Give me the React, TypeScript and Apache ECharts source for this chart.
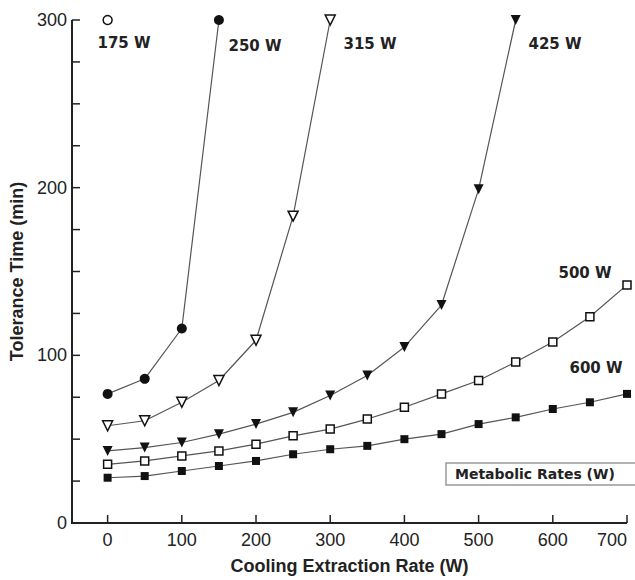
import React, { useEffect, useRef } from "react";
import * as echarts from "echarts";

const xTicks = [0, 100, 200, 300, 400, 500, 600, 700];
const yTicks = [0, 25, 50, 75, 100, 125, 150, 175, 200, 225, 250, 275, 300];
const x175 = [0];
const y175 = [300];
const x250 = [0, 50, 100, 150];
const y250 = [77, 86, 116, 300];
const x315 = [0, 50, 100, 150, 200, 250, 300];
const y315 = [58, 61, 72, 85, 109, 183, 300];
const x425 = [0, 50, 100, 150, 200, 250, 300, 350, 400, 450, 500, 550];
const y425 = [43, 45, 48, 53, 59, 66, 76, 88, 105, 130, 199, 300];
const x500 = [0, 50, 100, 150, 200, 250, 300, 350, 400, 450, 500, 550, 600, 650, 700];
const y500 = [35, 37, 40, 43, 47, 52, 56, 62, 69, 77, 85, 96, 108, 123, 142];
const x600 = [0, 50, 100, 150, 200, 250, 300, 350, 400, 450, 500, 550, 600, 650, 700];
const y600 = [27, 28, 31, 34, 37, 41, 44, 46, 50, 53, 59, 63, 68, 72, 77];
const seriesNames = ["175 W", "250 W", "315 W", "425 W", "500 W", "600 W"];
const X_MIN = -48;
const X_MAX = 700;
const Y_MIN = 0;
const Y_MAX = 300;

const pairs = (xs: number[], ys: number[]) => xs.map((x, i) => [x, ys[i]]);

export default function App() {
  const ref = useRef<HTMLDivElement>(null);
  useEffect(() => {
    if (!ref.current) return;
    const chart = echarts.init(ref.current, null, { renderer: "svg" });
    const lineColor = "#555";
    const ink = "#111";
    const axisColor = "#222";
    const base = (name: string, data: number[][], symbol: string, size: number, open: boolean, rotate = 0) => ({
      name,
      type: "line",
      data,
      symbol,
      symbolSize: size,
      symbolRotate: rotate,
      clip: false,
      lineStyle: { color: lineColor, width: 1.2 },
      itemStyle: open
        ? { color: "#fff", borderColor: ink, borderWidth: 1.5 }
        : { color: ink, borderColor: ink, borderWidth: 0 },
    });
    const labelStyle = (text: string, x: number, y: number) => ({
      type: "text",
      x,
      y,
      style: {
        text,
        fill: "#222",
        font: "bold 15px 'DejaVu Sans', sans-serif",
        textAlign: "center",
        textVerticalAlign: "middle",
      },
    });
    const seg = (x1: number, y1: number, x2: number, y2: number, w: number) => ({
      type: "line",
      shape: { x1, y1, x2, y2 },
      style: { stroke: axisColor, lineWidth: w, fill: null },
    });
    const axisFrame = {
      name: "axes",
      type: "custom",
      coordinateSystem: "cartesian2d",
      clip: false,
      silent: true,
      z: 5,
      data: [[0, 0]],
      renderItem: (_params: any, api: any) => {
        const o = api.coord([X_MIN, Y_MIN]);
        const c = api.coord([X_MAX, Y_MAX]);
        const children: any[] = [];
        children.push(seg(o[0], o[1], c[0], o[1], 2));
        children.push(seg(o[0], o[1] + 1, o[0], c[1], 2));
        xTicks.forEach((v) => {
          const p = api.coord([v, Y_MIN]);
          children.push(seg(p[0], o[1], p[0], o[1] - 8, 1.5));
        });
        yTicks.forEach((v) => {
          const p = api.coord([X_MIN, v]);
          children.push(seg(o[0], p[1], o[0] + 8, p[1], 1.5));
        });
        return { type: "group", children };
      },
    };
    chart.setOption({
      animation: false,
      textStyle: { fontFamily: "'Liberation Sans', Arial, sans-serif" },
      grid: { left: 72, right: 8, top: 20, bottom: 55 },
      xAxis: {
        type: "value",
        min: X_MIN,
        max: X_MAX,
        name: "Cooling Extraction Rate (W)",
        nameLocation: "middle",
        nameGap: 34,
        nameTextStyle: { fontSize: 18, fontWeight: "bold", color: axisColor },
        axisLine: { show: false },
        axisTick: { show: false },
        axisLabel: { customValues: xTicks, margin: 8, alignMaxLabel: "right", fontSize: 18, color: axisColor },
        splitLine: { show: false },
      },
      yAxis: {
        type: "value",
        min: Y_MIN,
        max: Y_MAX,
        interval: 25,
        name: "Tolerance Time (min)",
        nameLocation: "middle",
        nameGap: 46,
        nameTextStyle: { fontSize: 18, fontWeight: "bold", color: axisColor },
        axisLine: { show: false },
        axisTick: { show: false },
        axisLabel: {
          margin: 5,
          fontSize: 18,
          color: axisColor,
          formatter: (v: number) => (v % 100 === 0 ? String(v) : ""),
        },
        splitLine: { show: false },
      },
      graphic: [
        labelStyle(seriesNames[0], 124, 43),
        labelStyle(seriesNames[1], 255, 46),
        labelStyle(seriesNames[2], 370, 44),
        labelStyle(seriesNames[3], 555, 44),
        labelStyle(seriesNames[4], 585, 273),
        labelStyle(seriesNames[5], 596, 368),
        {
          type: "rect",
          shape: { x: 446, y: 463, width: 200, height: 22 },
          style: { fill: "#fff", stroke: "#999", lineWidth: 1.5 },
        },
        {
          type: "text",
          x: 455,
          y: 474,
          style: {
            text: "Metabolic Rates (W)",
            fill: "#222",
            font: "bold 14px 'DejaVu Sans', sans-serif",
            textAlign: "left",
            textVerticalAlign: "middle",
          },
        },
      ],
      series: [
        axisFrame,
        base(seriesNames[0], pairs(x175, y175), "circle", 9, true),
        base(seriesNames[1], pairs(x250, y250), "circle", 10, false),
        base(seriesNames[2], pairs(x315, y315), "triangle", 10, true, 180),
        base(seriesNames[3], pairs(x425, y425), "triangle", 10, false, 180),
        base(seriesNames[4], pairs(x500, y500), "rect", 8, true),
        base(seriesNames[5], pairs(x600, y600), "rect", 8, false),
      ],
    });
    return () => chart.dispose();
  }, []);
  return (
    <div
      ref={ref}
      style={{ position: "fixed", left: 0, top: 0, width: 635, height: 580, background: "#fff" }}
    />
  );
}
